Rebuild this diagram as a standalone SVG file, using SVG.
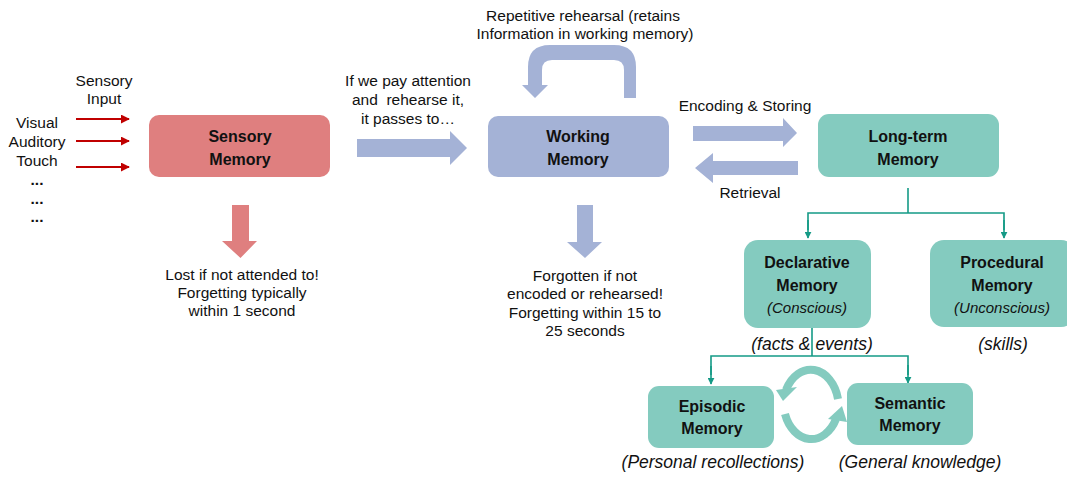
<svg xmlns="http://www.w3.org/2000/svg" width="1067" height="477" viewBox="0 0 1067 477">
<style>
text{font-family:"Liberation Sans",Arial,sans-serif;fill:#111}
.t{font-size:15.5px;text-anchor:middle}
.b{font-size:16px;font-weight:bold;text-anchor:middle}
.d{font-size:15.5px;font-weight:bold;text-anchor:middle}
.i{font-size:15px;font-style:italic;text-anchor:middle}
.il{font-size:17.5px;font-style:italic;text-anchor:middle}
.red{fill:#DF7F7F}
.blue{fill:#A4B2D6}
.teal{fill:#84CBBF}
.conn{stroke:#159A86;stroke-width:1.6;fill:none}
.sin{stroke:#C00000;stroke-width:1.8;fill:none}
</style>
<defs>
<marker id="ah" viewBox="0 0 10 10" refX="9" refY="5" markerWidth="7" markerHeight="7" orient="auto" markerUnits="userSpaceOnUse">
<path d="M0,0 L10,5 L0,10 z" fill="#159A86"/>
</marker>
<marker id="rh" viewBox="0 0 10 10" refX="9" refY="5" markerWidth="9" markerHeight="9" orient="auto" markerUnits="userSpaceOnUse">
<path d="M0,0 L10,5 L0,10 z" fill="#C00000"/>
</marker>
</defs>

<g id="inputs">
<text class="t" x="104" y="86">Sensory</text>
<text class="t" x="104" y="104">Input</text>
<text class="t" x="37" y="128">Visual</text>
<text class="t" x="37" y="147">Auditory</text>
<text class="t" x="37" y="166">Touch</text>
<text class="d" x="37" y="185">...</text>
<text class="d" x="37" y="204">...</text>
<text class="d" x="37" y="222">...</text>
</g>

<g id="connectors">
<line class="sin" x1="76" y1="119" x2="129" y2="119" marker-end="url(#rh)"/>
<line class="sin" x1="76" y1="141" x2="129" y2="141" marker-end="url(#rh)"/>
<line class="sin" x1="76" y1="167" x2="129" y2="167" marker-end="url(#rh)"/>
<path class="red" d="M232,205 H249 V241 H257 L240.5,258 L222,241 H232 Z"/>
<path class="blue" d="M357,139 H450 V131 L467,148 L450,165 V157 H357 Z"/>
<path class="blue" d="M636,98 V67 Q636,45 614,45 H550 Q528,45 528,67 V85 H522 L535,98 L548,85 H542 V70 Q542,60 552,60 H614 Q624,60 624,70 V98 Z"/>
<path class="blue" d="M577,205 H593 V242 H602 L585,258 L567,242 H577 Z"/>
<path class="blue" d="M693,126 H783 V118 L797,133 L783,147 V141 H693 Z"/>
<path class="blue" d="M798,161 H713 V153 L695,168 L713,183 V175 H798 Z"/>
<path class="conn" d="M908,188 V213"/>
<path class="conn" d="M808,230 V213 H1004 V230"/>
<line class="conn" x1="808" y1="220" x2="808" y2="238" marker-end="url(#ah)"/>
<line class="conn" x1="1004" y1="220" x2="1004" y2="238" marker-end="url(#ah)"/>
<path class="conn" d="M812,328 V356"/>
<path class="conn" d="M711,375 V356 H908 V375"/>
<line class="conn" x1="711" y1="366" x2="711" y2="384" marker-end="url(#ah)"/>
<line class="conn" x1="908" y1="365" x2="908" y2="383" marker-end="url(#ah)"/>
<path d="M838,399 A28 38 0 0 0 786,390" fill="none" stroke="#84CBBF" stroke-width="8"/>
<path d="M776,390 L797,387 L783,401 Z" fill="#84CBBF"/>
<path d="M785,414 A28 38 0 0 0 836,419" fill="none" stroke="#84CBBF" stroke-width="8"/>
<path d="M828,419 L847,422 L842,406 Z" fill="#84CBBF"/>
</g>

<g id="sensory">
<rect class="red" x="149" y="115" width="181" height="62" rx="10"/>
<text class="b" x="240" y="142">Sensory</text>
<text class="b" x="240" y="165">Memory</text>
<text class="t" x="242" y="280">Lost if not attended to!</text>
<text class="t" x="242" y="298">Forgetting typically</text>
<text class="t" x="242" y="316">within 1 second</text>
</g>

<g id="attention-label">
<text class="t" x="408" y="86">If we pay attention</text>
<text class="t" x="408" y="105">and&#160; rehearse it,</text>
<text class="t" x="408" y="124">it passes to…</text>
</g>

<g id="rehearsal-label">
<text class="t" x="583" y="21">Repetitive rehearsal (retains</text>
<text class="t" x="585" y="39">Information in working memory)</text>
</g>

<g id="working">
<rect class="blue" x="488" y="116" width="181" height="61" rx="10"/>
<text class="b" x="578" y="142">Working</text>
<text class="b" x="578" y="165">Memory</text>
<text class="t" x="585" y="281">Forgotten if not</text>
<text class="t" x="585" y="299">encoded or rehearsed!</text>
<text class="t" x="585" y="318">Forgetting within 15 to</text>
<text class="t" x="585" y="336">25 seconds</text>
</g>

<g id="encoding-labels">
<text class="t" x="745" y="111">Encoding &amp; Storing</text>
<text class="t" x="750" y="198">Retrieval</text>
</g>

<g id="longterm">
<rect class="teal" x="818" y="114" width="181" height="63" rx="11"/>
<text class="b" x="908" y="142">Long-term</text>
<text class="b" x="908" y="165">Memory</text>
</g>

<g id="declarative">
<rect class="teal" x="744" y="240" width="127" height="88" rx="14"/>
<text class="b" x="807" y="268">Declarative</text>
<text class="b" x="807" y="291">Memory</text>
<text class="i" x="807" y="313">(Conscious)</text>
<text class="il" x="812" y="350">(facts &amp; events)</text>
</g>

<g id="procedural">
<rect class="teal" x="930" y="240" width="145" height="87" rx="14"/>
<text class="b" x="1002" y="268">Procedural</text>
<text class="b" x="1002" y="291">Memory</text>
<text class="i" x="1002" y="313">(Unconscious)</text>
<text class="il" x="1003" y="350">(skills)</text>
</g>

<g id="episodic">
<rect class="teal" x="648" y="386" width="126" height="62" rx="11"/>
<text class="b" x="712" y="412">Episodic</text>
<text class="b" x="712" y="434">Memory</text>
<text class="il" x="713" y="468">(Personal recollections)</text>
</g>

<g id="semantic">
<rect class="teal" x="847" y="383" width="126" height="62" rx="11"/>
<text class="b" x="910" y="409">Semantic</text>
<text class="b" x="910" y="431">Memory</text>
<text class="il" x="920" y="468">(General knowledge)</text>
</g>
</svg>
